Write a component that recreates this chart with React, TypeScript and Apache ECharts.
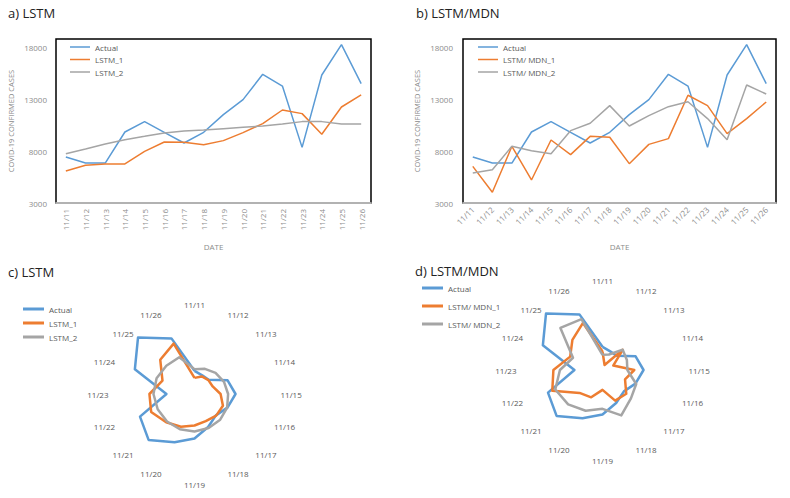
import React, { useEffect, useRef } from "react";
import * as echarts from "echarts";

const dates = ["11/11", "11/12", "11/13", "11/14", "11/15", "11/16", "11/17", "11/18", "11/19", "11/20", "11/21", "11/22", "11/23", "11/24", "11/25", "11/26"];
const actual = [7430, 6850, 6850, 9840, 10840, 9810, 8780, 9810, 11510, 12960, 15400, 14270, 8360, 15330, 18260, 14500];
const lstm1 = [6080, 6630, 6760, 6760, 7980, 8880, 8850, 8620, 9010, 9780, 10650, 11960, 11610, 9620, 12250, 13410];
const lstm2 = [7750, 8200, 8690, 9100, 9420, 9750, 9940, 10030, 10160, 10290, 10420, 10610, 10840, 10840, 10610, 10610];
const mdn1 = [6530, 4030, 8460, 5220, 9070, 7660, 9420, 9330, 6790, 8650, 9200, 13380, 12380, 9680, 11130, 12730];
const mdn2 = [5890, 6210, 8460, 8040, 7750, 9970, 10680, 12380, 10420, 11420, 12280, 12760, 11130, 9100, 14370, 13500];

const yMin = 3000;
const yMax = 18800;
const yInterval = 5000;
const radarMin = 3000;
const radarMax = 20000;

const BLUE = "#5B9BD5";
const ORANGE = "#ED7D31";
const GRAY = "#A5A5A5";
const FONT = "'Open Sans', sans-serif";
const TXT = "#595959";
const AXT = "#8c8c8c";

// Excel radar goes clockwise from the top; ECharts goes counter-clockwise, so reverse the order after the first
const radarOrder = [0, ...dates.map((_, i) => i).slice(1).reverse()];

type S = { name: string; data: number[]; color: string };

function lineOption(cfg: {
  title: string; titleLeft: number; gridLeft: number; gridWidth: number; rotate: number;
  labelMargin: number; yNameGap: number; yLabelMargin: number; legendLeft: number; series: S[];
}) {
  return {
    animation: false,
    textStyle: { fontFamily: FONT },
    title: {
      text: cfg.title, left: cfg.titleLeft, top: 6, padding: 0,
      textStyle: { fontFamily: FONT, fontSize: 13, fontWeight: "normal", color: "#222" },
    },
    legend: {
      orient: "vertical", left: cfg.legendLeft, top: 43, padding: 0,
      itemWidth: 20, itemHeight: 10, itemGap: 4.5,
      icon: "path://M0,0H20V1.5H0Z",
      textStyle: { fontSize: 8, color: TXT, fontFamily: FONT },
      data: cfg.series.map((s) => s.name),
    },
    grid: {
      left: cfg.gridLeft, top: 39, width: cfg.gridWidth, height: 164,
      show: true, borderColor: "#000", borderWidth: 1.5, containLabel: false,
    },
    xAxis: {
      type: "category", data: dates, boundaryGap: true, z: 10,
      axisLine: { lineStyle: { color: "#d9d9d9", width: 1.5 } },
      axisTick: { show: false },
      axisLabel: { rotate: cfg.rotate, fontSize: 8, color: AXT, margin: cfg.labelMargin, interval: 0, fontFamily: FONT },
      name: "DATE", nameLocation: "middle", nameGap: 39,
      nameTextStyle: { fontSize: 8, color: AXT, fontFamily: FONT },
    },
    yAxis: {
      type: "value", min: yMin, max: yMax, interval: yInterval,
      axisLabel: {
        showMaxLabel: false, fontSize: 8, color: AXT, margin: cfg.yLabelMargin, fontFamily: FONT,
        formatter: (v: number) => String(v),
      },
      splitLine: { show: false }, axisLine: { show: false }, axisTick: { show: false },
      name: "COVID-19 CONFIRMED CASES", nameLocation: "middle", nameGap: cfg.yNameGap,
      nameTextStyle: { fontSize: 7.5, color: AXT, fontFamily: FONT },
    },
    series: cfg.series.map((s) => ({
      type: "line", name: s.name, data: s.data, showSymbol: false, symbol: "none",
      lineStyle: { color: s.color, width: 1.5 }, itemStyle: { color: s.color },
    })),
  };
}

function radarOption(cfg: {
  title: string; titleLeft: number; titleTop: number; center: [number, number];
  legendLeft: number; legendTop: number; legendGap: number; series: S[];
}) {
  return {
    animation: false,
    textStyle: { fontFamily: FONT },
    title: {
      text: cfg.title, left: cfg.titleLeft, top: cfg.titleTop, padding: 0,
      textStyle: { fontFamily: FONT, fontSize: 13, fontWeight: "normal", color: "#222" },
    },
    legend: {
      orient: "vertical", left: cfg.legendLeft, top: cfg.legendTop, padding: 0,
      itemWidth: 21, itemHeight: 10, itemGap: cfg.legendGap,
      icon: "path://M0,0H21V3H0Z",
      textStyle: { fontSize: 8, color: TXT, fontFamily: FONT },
      data: cfg.series.map((s) => s.name),
    },
    radar: {
      center: cfg.center, radius: 89, startAngle: 90, splitNumber: 1,
      indicator: radarOrder.map((i) => ({ name: dates[i], min: radarMin, max: radarMax })),
      axisName: { color: TXT, fontSize: 8, fontFamily: FONT },
      nameGap: -3,
      axisLine: { show: false }, splitLine: { show: false }, splitArea: { show: false },
      axisTick: { show: false }, axisLabel: { show: false },
    },
    series: [{
      type: "radar", symbol: "none",
      data: cfg.series.map((s) => ({
        name: s.name, value: radarOrder.map((i) => s.data[i]), symbol: "none",
        lineStyle: { color: s.color, width: 2.5 }, itemStyle: { color: s.color },
      })),
    }],
  };
}

const lstmSeries: S[] = [
  { name: "Actual", data: actual, color: BLUE },
  { name: "LSTM_1", data: lstm1, color: ORANGE },
  { name: "LSTM_2", data: lstm2, color: GRAY },
];
const mdnSeries: S[] = [
  { name: "Actual", data: actual, color: BLUE },
  { name: "LSTM/ MDN_1", data: mdn1, color: ORANGE },
  { name: "LSTM/ MDN_2", data: mdn2, color: GRAY },
];

const options = [
  lineOption({ title: "a) LSTM", titleLeft: 8, gridLeft: 56, gridWidth: 315, rotate: 90, labelMargin: 6, yNameGap: 41, yLabelMargin: 9, legendLeft: 70, series: lstmSeries }),
  lineOption({ title: "b) LSTM/MDN", titleLeft: 416, gridLeft: 463, gridWidth: 313, rotate: 45, labelMargin: 5, yNameGap: 42, yLabelMargin: 10, legendLeft: 478, series: mdnSeries }),
  radarOption({ title: "c) LSTM", titleLeft: 8, titleTop: 265, center: [194.5, 394], legendLeft: 23, legendTop: 305, legendGap: 6, series: lstmSeries }),
  radarOption({ title: "d) LSTM/MDN", titleLeft: 415, titleTop: 264, center: [602.5, 370], legendLeft: 422, legendTop: 284, legendGap: 10, series: mdnSeries }),
];

function Chart({ option }: { option: any }) {
  const ref = useRef<HTMLDivElement>(null);
  useEffect(() => {
    if (!ref.current) return;
    const chart = echarts.init(ref.current, undefined, { renderer: "svg" });
    chart.setOption(option);
    return () => chart.dispose();
  }, [option]);
  return <div ref={ref} style={{ position: "absolute", left: 0, top: 0, width: 790, height: 498 }} />;
}

export default function App() {
  return (
    <div style={{ position: "fixed", left: 0, top: 0, width: 790, height: 498, background: "#fff", overflow: "hidden" }}>
      {options.map((o, i) => (
        <Chart key={i} option={o} />
      ))}
    </div>
  );
}
